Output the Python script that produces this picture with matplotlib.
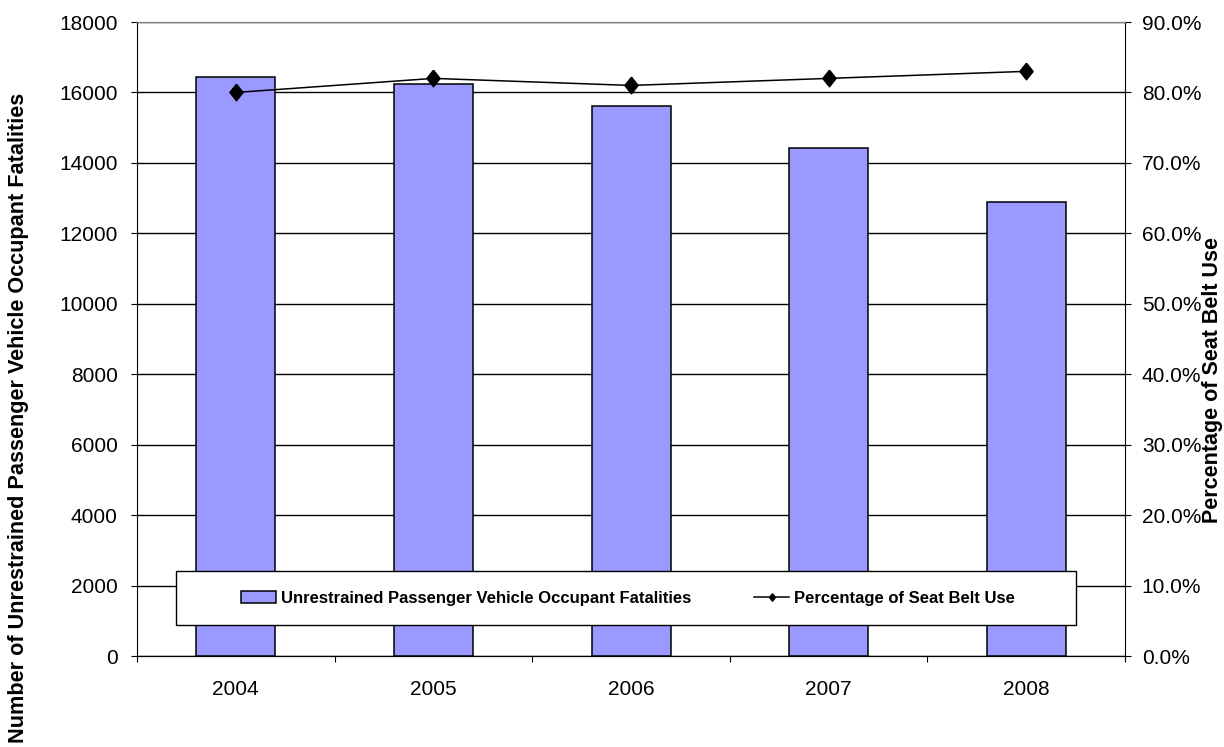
import numpy as np
import matplotlib.pyplot as plt
from matplotlib.patches import Rectangle
from matplotlib.ticker import FuncFormatter

plt.rcParams['font.family'] = ['Liberation Sans', 'DejaVu Sans']

# data
years = ['2004', '2005', '2006', '2007', '2008']
fatalities = [16430, 16230, 15615, 14430, 12880]
belt_use = [80.0, 82.0, 81.0, 82.0, 83.0]

# tall diamond like the spreadsheet marker
diamond = [(0, 1), (0.8, 0), (0, -1), (-0.8, 0), (0, 1)]

fig = plt.figure(figsize=(12.24, 7.47), dpi=100)
ax = fig.add_axes([0.1119, 0.1218, 0.8073, 0.8487])

x = np.arange(len(years))
bars = ax.bar(x, fatalities, width=0.4, color='#9999FF', edgecolor='black',
              linewidth=1.1, zorder=3,
              label='Unrestrained Passenger Vehicle Occupant Fatalities')

ax.set_xlim(-0.5, len(years) - 0.5)
ax.set_ylim(0, 18000)
ax.set_yticks(np.arange(0, 18001, 2000))
ax.yaxis.grid(True, color='black', linewidth=1, zorder=0)
ax.set_axisbelow(True)

# ticks between categories, labels in the middle
ax.set_xticks(np.arange(-0.5, len(years)))
ax.set_xticklabels([])
ax.set_xticks(x, minor=True)
ax.set_xticklabels(years, minor=True)
ax.tick_params(axis='x', which='minor', length=0, pad=17, labelsize=15)
ax.tick_params(axis='x', which='major', length=4.5, direction='out')
ax.tick_params(axis='y', length=4, direction='out', labelsize=15, pad=10)

ax.spines['top'].set_color('#808080')
ax.spines['right'].set_visible(False)

ax2 = ax.twinx()
ax2.set_position(ax.get_position())
line, = ax2.plot(x, belt_use, color='black', marker=diamond, markersize=12,
                 linewidth=1.1, zorder=4, label='Percentage of Seat Belt Use')
ax2.set_ylim(0, 90)
ax2.set_yticks(np.arange(0, 91, 10))
ax2.yaxis.set_major_formatter(FuncFormatter(lambda v, p: f'{v:.1f}%'))
ax2.tick_params(axis='y', length=4, direction='out', labelsize=15, pad=8)
ax2.spines['top'].set_color('#808080')
ax2.spines['left'].set_visible(False)

fig.text(0.0155, 0.44, 'Number of Unrestrained Passenger Vehicle Occupant Fatalities',
         rotation=90, ha='center', va='center', fontsize=15.6, fontweight='bold')
fig.text(0.991, 0.491, 'Percentage of Seat Belt Use', rotation=90,
         ha='center', va='center', fontsize=15.5, fontweight='bold')

# legend box drawn by hand so the padding can match
box = Rectangle((0.0395, 0.0489), 0.911, 0.0852, transform=ax2.transAxes,
                facecolor='white', edgecolor='black', linewidth=1, zorder=8)
ax2.add_patch(box)
leg = ax2.legend([bars, line], [bars.get_label(), line.get_label()],
                 loc='center', bbox_to_anchor=(0.497, 0.0915), ncol=2,
                 frameon=False, prop={'weight': 'bold', 'size': 12},
                 handlelength=2.1, handletextpad=0.3, columnspacing=3.8,
                 borderpad=0, markerscale=0.45)
leg.set_zorder(10)

fig.savefig('out.png', dpi=100)
